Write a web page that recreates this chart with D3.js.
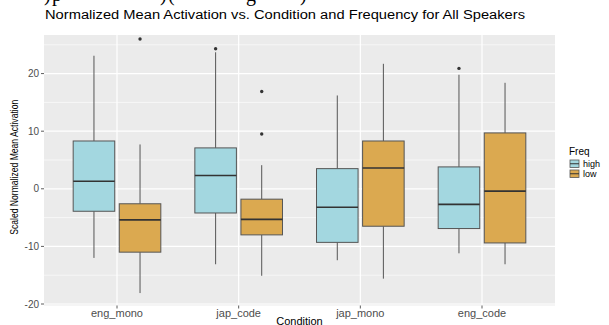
<!DOCTYPE html>
<html>
<head>
<meta charset="utf-8">
<script src="https://cdn.jsdelivr.net/npm/d3@7"></script>
<style>
  body { margin: 0; background: #fff; }
  svg { display: block; font-family: "Liberation Sans", Arial, sans-serif; }
</style>
</head>
<body>
<svg id="chart" width="609" height="325"></svg>
<script>
// Data.
var conditions = ['eng_mono', 'jap_code', 'jap_mono', 'eng_code'];
var freqs = ['high', 'low'];
var freqColors = ['#a3d7e0', '#dba950'];

// one entry per condition, in order
var highWhiskerLow  = [-12.0, -13.1, -12.4, -11.2];
var highQ1          = [ -3.9,  -4.2,  -9.3,  -6.9];
var highMedian      = [  1.3,   2.3,  -3.2,  -2.7];
var highQ3          = [  8.3,   7.1,   3.5,   3.8];
var highWhiskerHigh = [ 23.1,  23.7,  16.2,  19.8];
var highOutliers    = [[], [24.3], [], [20.9]];

var lowWhiskerLow   = [-18.1, -15.1, -15.6, -13.1];
var lowQ1           = [-11.0,  -8.0,  -6.5,  -9.4];
var lowMedian       = [ -5.4,  -5.3,   3.6,  -0.4];
var lowQ3           = [ -2.6,  -1.8,   8.3,   9.7];
var lowWhiskerHigh  = [  7.7,   4.1,  21.7,  18.4];
var lowOutliers     = [[26.0], [16.9, 9.5], [], []];

var yTicks = [-20, -10, 0, 10, 20];
var yMinor = [-15, -5, 5, 15, 25];

var svg = d3.select('#chart');
var margin = {top: 35, right: 54, bottom: 20, left: 44};
var width = 609 - margin.left - margin.right;
var plotBottom = 305.5;

// Build box records from the arrays.
var boxes = [];
conditions.forEach(function(c, i) {
  boxes.push({cond: c, freq: 'high', lo: highWhiskerLow[i], q1: highQ1[i], med: highMedian[i],
    q3: highQ3[i], hi: highWhiskerHigh[i], out: highOutliers[i]});
  boxes.push({cond: c, freq: 'low', lo: lowWhiskerLow[i], q1: lowQ1[i], med: lowMedian[i],
    q3: lowQ3[i], hi: lowWhiskerHigh[i], out: lowOutliers[i]});
});

// Scales
var x = d3.scalePoint().domain(conditions)
    .range([margin.left, margin.left + width]).padding(0.6);
var unit = x.step();
var dodge = d3.scaleBand().domain(freqs).range([-0.375 * unit, 0.375 * unit]).paddingInner(0.02);
var y = d3.scaleLinear().domain([-20, 26.7]).range([304, margin.top]);
var color = d3.scaleOrdinal().domain(freqs).range(freqColors);

// Panel background and grid
svg.append('rect')
    .attr('x', margin.left).attr('y', margin.top)
    .attr('width', width).attr('height', plotBottom - margin.top)
    .style('fill', '#ebebeb');

var grid = svg.append('g');
grid.selectAll('.minor').data(yMinor).enter().append('line')
    .attr('x1', margin.left).attr('x2', margin.left + width)
    .attr('y1', function(d) { return y(d); }).attr('y2', function(d) { return y(d); })
    .style('stroke', '#fff').style('stroke-width', 0.6);
grid.selectAll('.major').data(yTicks).enter().append('line')
    .attr('x1', margin.left).attr('x2', margin.left + width)
    .attr('y1', function(d) { return y(d); }).attr('y2', function(d) { return y(d); })
    .style('stroke', '#fff').style('stroke-width', 1.2);
grid.selectAll('.vmajor').data(conditions).enter().append('line')
    .attr('x1', function(d) { return x(d); }).attr('x2', function(d) { return x(d); })
    .attr('y1', margin.top).attr('y2', plotBottom)
    .style('stroke', '#fff').style('stroke-width', 1.2);

// Boxes
var g = svg.append('g').selectAll('g').data(boxes).enter().append('g')
    .attr('transform', function(d) {
      return 'translate(' + (x(d.cond) + dodge(d.freq) + dodge.bandwidth() / 2) + ',0)';
    });
var bw = dodge.bandwidth() * 0.92;

g.append('line').attr('class', 'whisker')
    .attr('y1', function(d) { return y(d.hi); }).attr('y2', function(d) { return y(d.q3); })
    .style('stroke', '#555').style('stroke-width', 1);
g.append('line').attr('class', 'whisker')
    .attr('y1', function(d) { return y(d.q1); }).attr('y2', function(d) { return y(d.lo); })
    .style('stroke', '#555').style('stroke-width', 1);
g.append('rect')
    .attr('x', -bw / 2).attr('width', bw)
    .attr('y', function(d) { return y(d.q3); })
    .attr('height', function(d) { return y(d.q1) - y(d.q3); })
    .style('fill', function(d) { return color(d.freq); })
    .style('stroke', '#555').style('stroke-width', 1);
g.append('line')
    .attr('x1', -bw / 2).attr('x2', bw / 2)
    .attr('y1', function(d) { return y(d.med); }).attr('y2', function(d) { return y(d.med); })
    .style('stroke', '#333').style('stroke-width', 1.6);
g.selectAll('circle').data(function(d) { return d.out; }).enter().append('circle')
    .attr('r', 1.7).attr('cy', function(v) { return y(v); })
    .style('fill', '#333');

// Y axis
var yAxis = svg.append('g');
yTicks.forEach(function(t) {
  yAxis.append('line').attr('x1', margin.left - 3).attr('x2', margin.left)
      .attr('y1', y(t)).attr('y2', y(t)).style('stroke', '#333').style('stroke-width', 0.8);
  yAxis.append('text').attr('x', margin.left - 5).attr('y', y(t)).attr('dy', '0.35em')
      .attr('text-anchor', 'end').style('font-size', '10px').style('fill', '#4d4d4d')
      .text(t);
});
svg.append('text')
    .attr('transform', 'translate(18,' + ((margin.top + plotBottom) / 2 - 3) + ') rotate(-90)')
    .attr('text-anchor', 'middle').attr('textLength', 135).attr('lengthAdjust', 'spacingAndGlyphs')
    .style('font-size', '10px').style('fill', '#000')
    .text('Scaled Normalized Mean Activation');

// X axis
var xAxis = svg.append('g');
conditions.forEach(function(c) {
  xAxis.append('line').attr('x1', x(c)).attr('x2', x(c))
      .attr('y1', plotBottom).attr('y2', plotBottom + 3)
      .style('stroke', '#333').style('stroke-width', 0.8);
  xAxis.append('text').attr('x', x(c)).attr('y', plotBottom + 11)
      .attr('text-anchor', 'middle').style('font-size', '11px').style('fill', '#4d4d4d')
      .text(c);
});
svg.append('text').attr('x', margin.left + width / 2).attr('y', 324.5)
    .attr('text-anchor', 'middle').style('font-size', '11px').style('fill', '#000')
    .text('Condition');

// Title
svg.append('text').attr('x', 45).attr('y', 19)
    .attr('textLength', 480).attr('lengthAdjust', 'spacingAndGlyphs')
    .style('font-size', '12px').style('fill', '#000')
    .text('Normalized Mean Activation vs. Condition and Frequency for All Speakers');

// Cropped serif text at the very top of the picture
var topBits = [[44, ')'], [52, 'p'], [160, ')'], [168, '('], [246, 'g'], [300, ')']];
topBits.forEach(function(b) {
  svg.append('text').attr('x', b[0]).attr('y', 1)
      .style('font-family', '"Liberation Serif", serif').style('font-size', '20px')
      .style('fill', '#000').text(b[1]);
});

// Legend
var legend = svg.append('g').attr('transform', 'translate(569,0)');
legend.append('text').attr('x', 0).attr('y', 155)
    .style('font-size', '10px').style('fill', '#000').text('Freq');
freqs.forEach(function(f, i) {
  var ky = 160 + i * 10;
  legend.append('rect').attr('x', 1).attr('y', ky).attr('width', 9).attr('height', 7.5)
      .style('fill', color(f)).style('stroke', '#555').style('stroke-width', 0.8);
  legend.append('line').attr('x1', 1).attr('x2', 10).attr('y1', ky + 3.75).attr('y2', ky + 3.75)
      .style('stroke', '#333').style('stroke-width', 1);
  legend.append('text').attr('x', 14).attr('y', ky + 7)
      .style('font-size', '9px').style('fill', '#000').text(f);
});
</script>
</body>
</html>
